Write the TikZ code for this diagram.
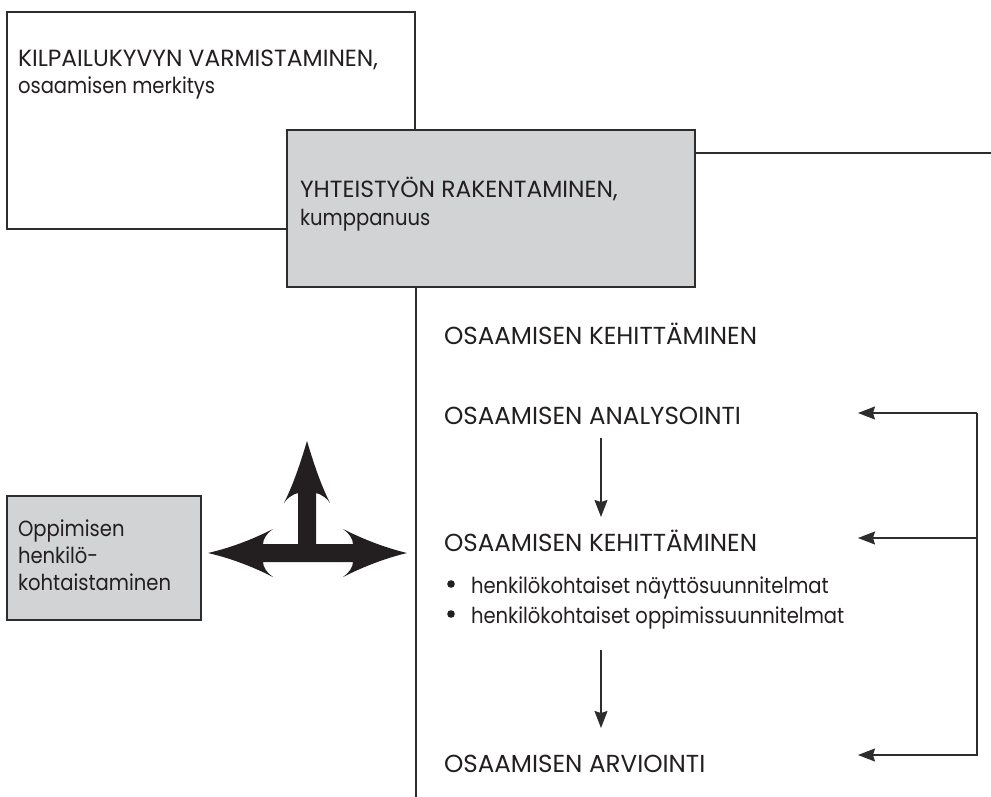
\documentclass[tikz,border=0pt]{standalone}
\usepackage{fontspec}
\setmainfont{Poppins}
\newfontfamily\lcfont[FakeStretch=0.89]{Poppins}
\usetikzlibrary{arrows.meta}
\definecolor{boxgray}{RGB}{209,211,212}
\definecolor{linegray}{RGB}{45,45,45}
\definecolor{ink}{RGB}{35,31,32}
\tikzset{
  every node/.style={text=ink, inner sep=0pt, outer sep=0pt},
  capbox/.style={anchor=base west, font=\fontsize{23.4}{27}\selectfont},
  capcol/.style={anchor=base west, font=\fontsize{24.6}{28}\selectfont},
  lower/.style={anchor=base west, font=\lcfont\fontsize{22}{26}\selectfont},
  whitebox/.style={draw=linegray, line width=1.2pt, fill=white, anchor=north west},
  graybox/.style={draw=linegray, line width=1.2pt, fill=boxgray, anchor=north west},
  thinline/.style={draw=linegray, line width=1.2pt},
  arr/.style={thinline, -{Stealth[length=17pt, width=13pt, inset=2pt]}},
}
\begin{document}
\begin{tikzpicture}[x=1pt, y=-1pt]
\useasboundingbox (0,0) rectangle (991,797);
% boxes
\node[whitebox, minimum width=408pt, minimum height=217pt] (wb) at (7,12) {};
\node[graybox, minimum width=408pt, minimum height=157pt] (gb) at (287,130) {};
\node[graybox, minimum width=194pt, minimum height=124pt] (sb) at (7,496) {};
% texts in boxes
\node[capbox] (t1) at (18,67) {KILPAILUKYVYN VARMISTAMINEN,};
\node[lower] (t2) at (18,94) {osaamisen merkitys};
\node[capbox] (t3) at (300,197) {YHTEISTYÖN RAKENTAMINEN,};
\node[lower] (t4) at (300,225) {kumppanuus};
\node[lower] (s1) at (18,536) {Oppimisen};
\node[lower] (s2) at (18,563) {henkilö-};
\node[lower] (s3) at (18,590) {kohtaistaminen};
% connectors from the gray box
\coordinate (hr) at (991,153);
\coordinate (vb) at (416,797);
\draw[thinline] (gb.east |- hr) -- (hr);
\draw[thinline] (gb.south -| vb) -- (vb);
% right column texts
\node[capcol] (k1) at (444,344) {OSAAMISEN KEHITTÄMINEN};
\node[capcol] (an) at (444,424) {OSAAMISEN ANALYSOINTI};
\node[capcol] (k2) at (444,551) {OSAAMISEN KEHITTÄMINEN};
\node[lower] (b1) at (471,593) {henkilökohtaiset näyttösuunnitelmat};
\node[lower] (b2) at (471,623) {henkilökohtaiset oppimissuunnitelmat};
\node[capcol] (ar) at (444,772) {OSAAMISEN ARVIOINTI};
\fill[ink] (451,584) circle (3.8pt);
\fill[ink] (451,614) circle (3.8pt);
% down arrows
\coordinate (d1a) at (601,438);
\coordinate (d1b) at (601,517);
\coordinate (d2a) at (601,650);
\coordinate (d2b) at (601,728);
\draw[arr] (d1a) -- (d1b);
\draw[arr] (d2a) -- (d2b);
% feedback bracket
\coordinate (rt) at (977,413);
\coordinate (rm) at (977,538);
\coordinate (rb) at (977,755);
\coordinate (at) at (858,413);
\coordinate (am) at (858,538);
\coordinate (ab) at (858,755);
\draw[arr] (rt) -- (rb) -- (ab);
\draw[arr] (rt) -- (at);
\draw[arr] (rm) -- (am);
% big three-way arrow
\fill[ink] (208,553)
  .. controls (229.7,548) and (251.3,540) .. (273,529)
  .. controls (267,533) and (263,539) .. (263,544)
  -- (298,544) -- (298,493)
  .. controls (293,494) and (286,499) .. (284,503)
  .. controls (294,483) and (301,461) .. (307,441)
  .. controls (313,461) and (320,483) .. (330,503)
  .. controls (328,499) and (321,494) .. (316,493)
  -- (316,544) -- (353,544)
  .. controls (353,539) and (349,533) .. (343,529)
  .. controls (364.7,540) and (386.3,548) .. (407,553)
  .. controls (386.3,558) and (364.7,566) .. (343,577)
  .. controls (349,573) and (353,567) .. (353,562)
  -- (263,562)
  .. controls (263,567) and (267,573) .. (273,577)
  .. controls (251.3,566) and (229.7,558) .. (208,553)
  -- cycle;
\end{tikzpicture}
\end{document}
